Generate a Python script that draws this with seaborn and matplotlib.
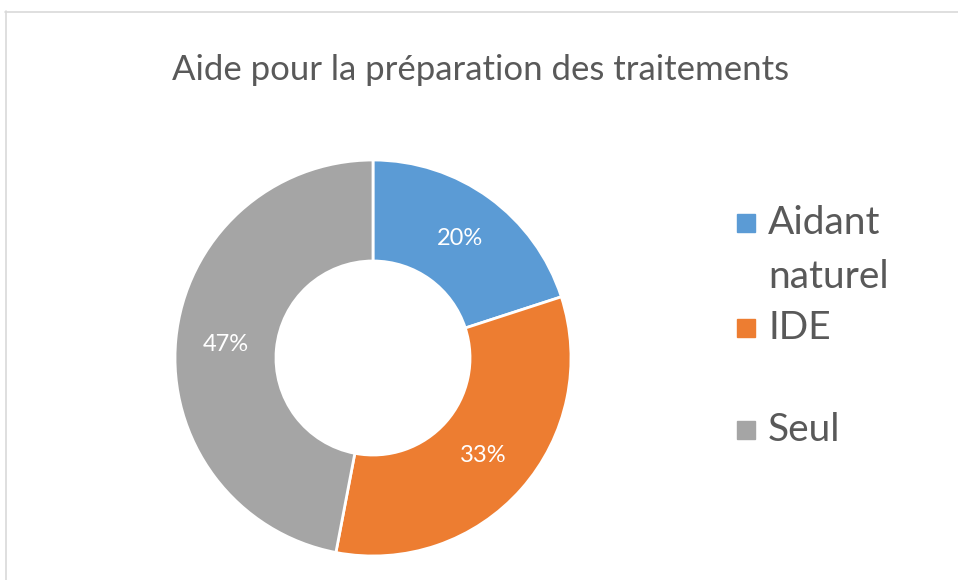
import matplotlib.pyplot as plt
import seaborn as sns
from matplotlib.patches import Rectangle
from matplotlib.lines import Line2D

# data
categories = ["Aidant\nnaturel", "IDE", "Seul"]
shares = [20, 33, 47]
colors = ["#5b9bd5", "#ed7d31", "#a5a5a5"]

sns.set_theme(style="white")
plt.rcParams["font.family"] = ["Lato", "DejaVu Sans"]
text_grey = "#595959"

fig = plt.figure(figsize=(9.58, 5.8), dpi=100)

# donut centered at (373, 358) px, outer radius ~198 px
W, H = 958, 580
cx, cy, r = 373, 358, 198
ax = fig.add_axes([(cx - r) / W, (H - cy - r) / H, 2 * r / W, 2 * r / H])

wedges, texts, autotexts = ax.pie(
    shares,
    colors=colors,
    startangle=90,
    counterclock=False,
    radius=1,
    autopct="%1.0f%%",
    pctdistance=0.745,
    wedgeprops={"width": 0.51, "edgecolor": "white", "linewidth": 2},
    textprops={"color": "white", "fontsize": 17},
)
ax.set_xlim(-1, 1)
ax.set_ylim(-1, 1)
ax.set_aspect("equal")
ax.axis("off")

fig.text(481 / W, 1 - 70 / H, "Aide pour la préparation des traitements",
         ha="center", va="center", fontsize=25, color=text_grey)

# legend drawn by hand to mimic the Excel layout
legend_y = [223, 328, 430]
line_step = 54
for lab, col, y in zip(categories, colors, legend_y):
    fig.add_artist(Rectangle((737 / W, 1 - (y + 9) / H), 18 / W, 18 / H,
                             transform=fig.transFigure, color=col))
    for i, part in enumerate(lab.split("\n")):
        fig.text(768 / W, 1 - (y + i * line_step) / H, part, ha="left", va="center",
                 fontsize=28, color=text_grey)

# frame (only left and top visible in the crop)
fig.add_artist(Line2D([5.5 / W, 5.5 / W], [0, 1 - 11 / H], transform=fig.transFigure,
                      color="#d9d9d9", lw=1.2))
fig.add_artist(Line2D([5 / W, 1], [1 - 11.5 / H, 1 - 11.5 / H], transform=fig.transFigure,
                      color="#d9d9d9", lw=1.2))

fig.savefig("out.png", dpi=100)
